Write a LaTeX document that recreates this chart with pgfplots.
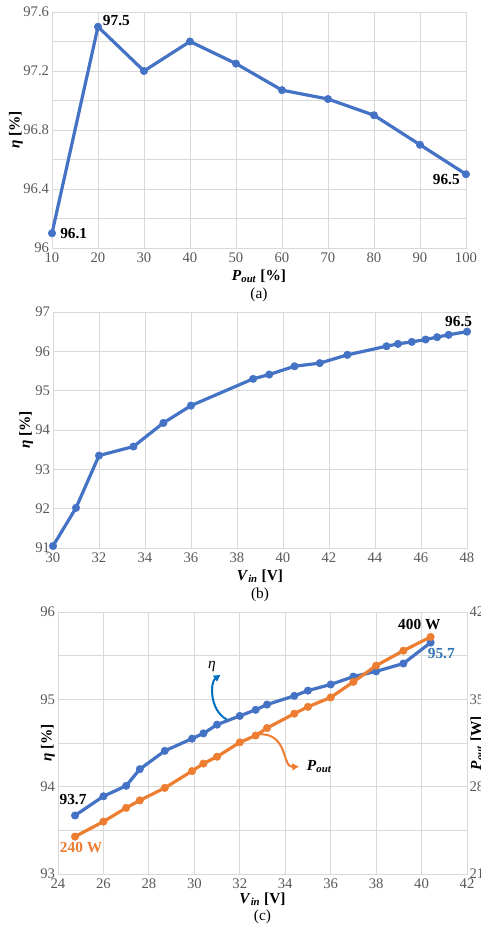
\documentclass[border=0pt]{standalone}
\usepackage{fontspec}
\setmainfont{Liberation Serif}
\usepackage{pgfplots}
\pgfplotsset{compat=1.18}
\usetikzlibrary{arrows.meta}
\definecolor{eblue}{HTML}{4472C4}
\definecolor{eorange}{HTML}{ED7D31}
\definecolor{gridc}{HTML}{D9D9D9}
\definecolor{tickc}{HTML}{595959}
\definecolor{lblue}{HTML}{2E75B6}
\definecolor{arrblue}{HTML}{0070C0}
\newcommand{\tickfont}{\fontsize{11}{13}\selectfont}
\newcommand{\labfont}{\fontsize{11.5}{13.8}\selectfont}
\pgfplotsset{
  myax/.style={
    scale only axis,
    clip=false,
    grid=both,
    major grid style={draw=gridc, line width=0.6pt},
    minor grid style={draw=gridc, line width=0.6pt},
    axis line style={draw=gridc, line width=0.6pt},
    major tick length=0pt, minor tick length=0pt,
    tick label style={font=\tickfont, text=tickc},
    yticklabel style={inner sep=0pt, xshift=-2pt},
    xticklabel style={inner sep=0pt, yshift=-3.5pt},
    /pgf/number format/assume math mode=true,
  },
  bline/.style={color=eblue, line width=2.4pt, line join=round, mark=*, mark size=2.8pt, mark options={solid, line width=0.4pt, fill=eblue}},
  oline/.style={color=eorange, line width=2.4pt, line join=round, mark=*, mark size=2.8pt, mark options={solid, line width=0.4pt, fill=eorange}},
}
\tikzset{ann/.style={font=\labfont\bfseries, inner sep=0pt}}
\begin{document}
\begin{tikzpicture}
\useasboundingbox (0,0) rectangle (360.75pt,694.5pt);
% ---------------- (a)
\begin{axis}[myax, at={(39pt,508.5pt)}, anchor=south west, width=310.5pt, height=177pt,
  xmin=10, xmax=100, ymin=96, ymax=97.6,
  xtick={10,20,30,40,50,60,70,80,90,100},
  ytick={96,96.4,96.8,97.2,97.6}, yticklabels={96,96.4,96.8,97.2,97.6},
  minor ytick={96.2,96.6,97,97.4}]
\addplot[bline] coordinates {(10,96.1)(20,97.5)(30,97.2)(40,97.4)(50,97.25)(60,97.07)(70,97.01)(80,96.9)(90,96.7)(100,96.5)};
\node[ann, anchor=west, xshift=6pt] at (axis cs:10,96.1) {96.1};
\node[ann, anchor=west, xshift=3.5pt, yshift=4.5pt] at (axis cs:20,97.5) {97.5};
\node[ann, anchor=east, xshift=-4.5pt, yshift=-3.75pt] at (axis cs:100,96.5) {96.5};
\node[font=\labfont\bfseries, rotate=90, anchor=center] at (axis description cs:-0.087,0.5) {\textit{η} [\%]};
\node[font=\labfont\bfseries, anchor=base] at (axis description cs:0.5,-0.137) {\textit{P}\textsubscript{\textit{out}} [\%]};
\node[font=\labfont, anchor=base] at (axis description cs:0.5,-0.213) {(a)};
\end{axis}
% ---------------- (b)
\begin{axis}[myax, at={(39.75pt,283.5pt)}, anchor=south west, width=310.5pt, height=177pt,
  xmin=30, xmax=48, ymin=91, ymax=97,
  xtick={30,32,34,36,38,40,42,44,46,48},
  ytick={91,92,93,94,95,96,97}]
\addplot[bline] coordinates {(30,91.05)(31,92.02)(32,93.35)(33.5,93.58)(34.8,94.18)(36,94.62)(38.7,95.3)(39.4,95.41)(40.5,95.62)(41.6,95.7)(42.8,95.91)(44.5,96.13)(45,96.19)(45.6,96.24)(46.2,96.3)(46.7,96.36)(47.2,96.42)(48,96.5)};
\node[ann, anchor=east, xshift=4pt, yshift=7.5pt] at (axis cs:48,96.5) {96.5};
\node[font=\labfont\bfseries, rotate=90, anchor=center] at (axis description cs:-0.065,0.5) {\textit{η} [\%]};
\node[font=\labfont\bfseries, anchor=base] at (axis description cs:0.5,-0.137) {\textit{V}\textsubscript{\textit{in}} [V]};
\node[font=\labfont, anchor=base] at (axis description cs:0.5,-0.213) {(b)};
\end{axis}
% ---------------- (c) left axis
\begin{axis}[myax, at={(43.5pt,39pt)}, anchor=south west, width=306.75pt, height=196.5pt,
  xmin=24, xmax=42, ymin=93, ymax=96,
  xtick={24,26,28,30,32,34,36,38,40,42},
  ytick={93,94,95,96}, minor ytick={93.5,94.5,95.5}]
\addplot[bline] coordinates {(24.75,93.67)(26,93.89)(27,94.01)(27.6,94.2)(28.7,94.41)(29.9,94.55)(30.4,94.61)(31,94.71)(32,94.81)(32.7,94.88)(33.2,94.94)(34.4,95.04)(35,95.1)(36,95.17)(37,95.26)(38,95.32)(39.2,95.41)(40.4,95.65)};
\node[ann, anchor=center, xshift=-1.5pt, yshift=12pt] at (axis cs:24.75,93.67) {93.7};
\node[ann, anchor=center, text=lblue, xshift=8pt, yshift=-8pt] at (axis cs:40.4,95.65) {95.7};
\draw[arrblue, line width=1.5pt, -{Triangle[length=5pt,width=5pt]}] (axis cs:31.42,94.77) .. controls (axis cs:30.65,94.88) and (axis cs:30.7,95.2) .. (axis cs:31.15,95.28);
\node[font=\labfont, anchor=center] at (axis cs:30.77,95.38) {\textit{η}};
\draw[eorange, line width=1.5pt, -{Triangle[length=5pt,width=5pt]}] (axis cs:32.82,94.6) .. controls (axis cs:34.15,94.62) and (axis cs:33.85,94.22) .. (axis cs:34.6,94.23);
\node[font=\labfont\bfseries, anchor=west] at (axis cs:34.75,94.23) {\textit{P}\textsubscript{\textit{out}}};
\node[font=\labfont\bfseries, rotate=90, anchor=center] at (axis description cs:-0.0245,0.5) {\textit{η} [\%]};
\node[font=\labfont\bfseries, anchor=base] at (axis description cs:0.5,-0.1107) {\textit{V}\textsubscript{\textit{in}} [V]};
\node[font=\labfont, anchor=base] at (axis description cs:0.5,-0.178) {(c)};
\end{axis}
% ---------------- (c) right axis
\begin{axis}[myax, at={(43.5pt,39pt)}, anchor=south west, width=306.75pt, height=196.5pt,
  grid=none, axis x line=none, axis y line*=right,
  xmin=24, xmax=42, ymin=210, ymax=420,
  ytick={210,280,350,420},
  yticklabel style={anchor=west, inner sep=0pt, xshift=3.75pt}]
\addplot[oline] coordinates {(24.75,240)(26,252)(27,263)(27.6,269)(28.7,279)(29.9,292.5)(30.4,298.5)(31,304)(32,315.5)(32.7,321)(33.2,327)(34.4,338.5)(35,344)(36,351.5)(37,364)(38,377)(39.2,389)(40.4,400)};
\node[ann, anchor=center, text=eorange, xshift=4.5pt, yshift=-8.5pt] at (axis cs:24.75,240) {240 W};
\node[ann, anchor=center, xshift=-8.5pt, yshift=9pt] at (axis cs:40.4,400) {400 W};
\node[font=\labfont\bfseries, rotate=90, anchor=center] at (axis description cs:1.0245,0.5) {\textit{P}\textsubscript{\textit{out}} [W]};
\end{axis}
\end{tikzpicture}
\end{document}
